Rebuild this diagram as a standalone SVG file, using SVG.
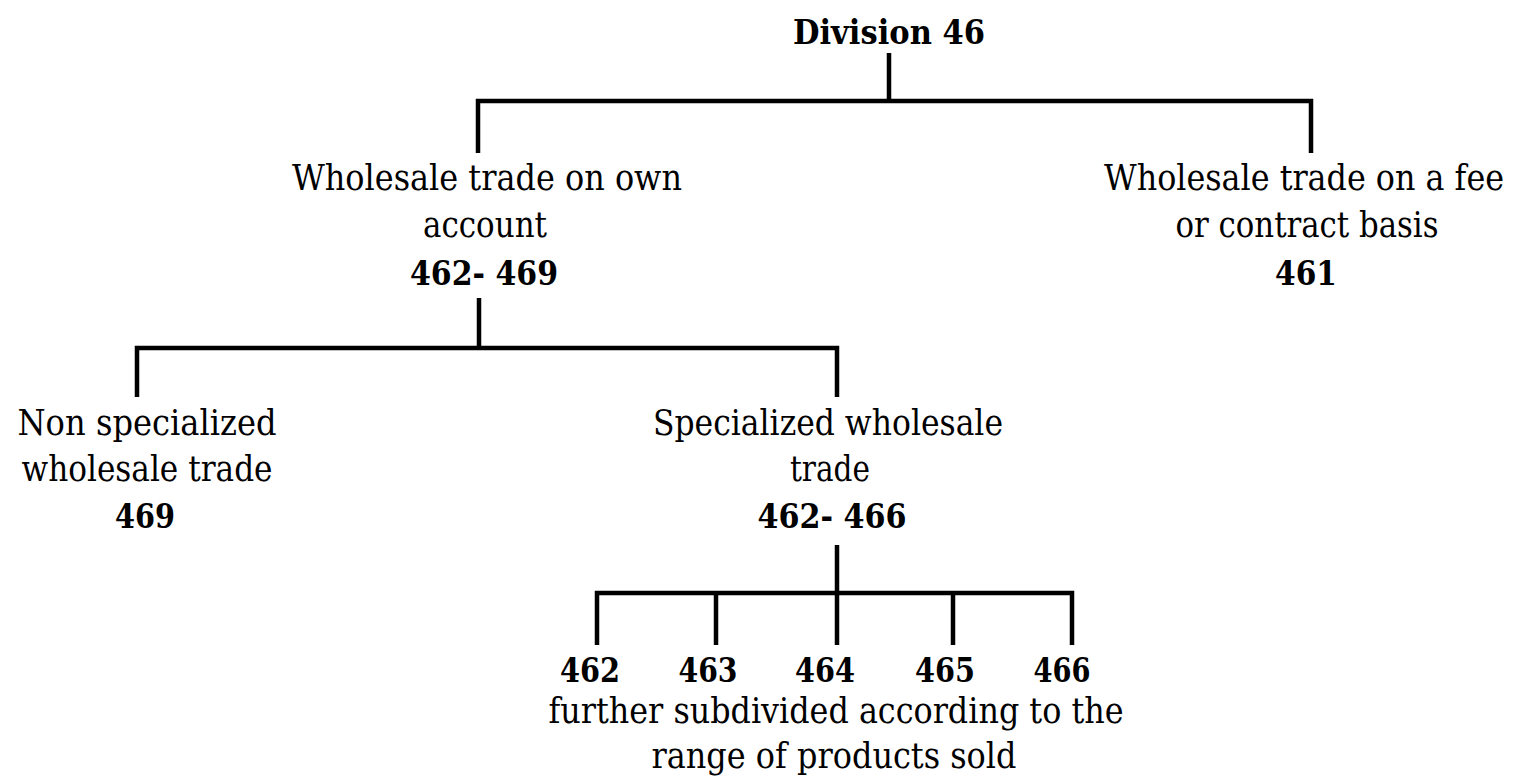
<svg xmlns="http://www.w3.org/2000/svg" width="1516" height="781" viewBox="0 0 1516 781">
  <style>
    .bg { fill: #ffffff; }
    .lbl { font-family: "DejaVu Serif", "Liberation Serif", serif; font-size: 35px; fill: #000; text-anchor: middle; }
    .code { font-family: "DejaVu Serif", "Liberation Serif", serif; font-size: 34px; font-weight: bold; fill: #000; text-anchor: middle; }
    .wire { fill: none; stroke: #000; stroke-width: 4.5; stroke-linejoin: miter; stroke-linecap: butt; }
  </style>
  <rect class="bg" x="0" y="0" width="1516" height="781"/>

  <!-- tree connectors -->
  <g id="connectors">
    <path class="wire" d="M889 53 V101"/>
    <path class="wire" d="M478 153 V101 H1311 V153"/>
    <path class="wire" d="M479 298 V348"/>
    <path class="wire" d="M137 397 V348 H837 V397"/>
    <path class="wire" d="M837 545 V593"/>
    <path class="wire" d="M597 645 V593 H1072 V645"/>
    <path class="wire" d="M716 593 V645"/>
    <path class="wire" d="M837 593 V645"/>
    <path class="wire" d="M953 593 V645"/>
  </g>

  <g id="division-46">
    <text class="code" x="889" y="44" textLength="192" lengthAdjust="spacingAndGlyphs">Division 46</text>
  </g>

  <g id="own-account">
    <text class="lbl" x="487" y="190" textLength="390" lengthAdjust="spacingAndGlyphs">Wholesale trade on own</text>
    <text class="lbl" x="485" y="237" textLength="124" lengthAdjust="spacingAndGlyphs">account</text>
    <text class="code" x="484" y="285" textLength="148" lengthAdjust="spacingAndGlyphs">462- 469</text>
  </g>

  <g id="fee-contract">
    <!-- long first line is drawn horizontally condensed so it stays inside the right edge -->
    <text class="lbl" transform="translate(1304 190) scale(0.85 1)" x="0" y="0" textLength="470.6" lengthAdjust="spacingAndGlyphs">Wholesale trade on a fee</text>
    <text class="lbl" x="1307" y="237" textLength="263" lengthAdjust="spacingAndGlyphs">or contract basis</text>
    <text class="code" x="1306" y="285" textLength="62" lengthAdjust="spacingAndGlyphs">461</text>
  </g>

  <g id="non-specialized">
    <text class="lbl" x="147" y="435" textLength="259" lengthAdjust="spacingAndGlyphs">Non specialized</text>
    <text class="lbl" x="147" y="481" textLength="251" lengthAdjust="spacingAndGlyphs">wholesale trade</text>
    <text class="code" x="145" y="528" textLength="60" lengthAdjust="spacingAndGlyphs">469</text>
  </g>

  <g id="specialized">
    <text class="lbl" x="828" y="435" textLength="350" lengthAdjust="spacingAndGlyphs">Specialized wholesale</text>
    <text class="lbl" x="830" y="481" textLength="80" lengthAdjust="spacingAndGlyphs">trade</text>
    <text class="code" x="832" y="528" textLength="149" lengthAdjust="spacingAndGlyphs">462- 466</text>
  </g>

  <g id="group-462"><text class="code" x="590" y="682" textLength="60" lengthAdjust="spacingAndGlyphs">462</text></g>
  <g id="group-463"><text class="code" x="708" y="682" textLength="59" lengthAdjust="spacingAndGlyphs">463</text></g>
  <g id="group-464"><text class="code" x="825" y="682" textLength="60" lengthAdjust="spacingAndGlyphs">464</text></g>
  <g id="group-465"><text class="code" x="945" y="682" textLength="60" lengthAdjust="spacingAndGlyphs">465</text></g>
  <g id="group-466"><text class="code" x="1062" y="682" textLength="57" lengthAdjust="spacingAndGlyphs">466</text></g>

  <g id="subdivision-note">
    <text class="lbl" x="836" y="723" textLength="575" lengthAdjust="spacingAndGlyphs">further subdivided according to the</text>
    <text class="lbl" x="834" y="768" textLength="365" lengthAdjust="spacingAndGlyphs">range of products sold</text>
  </g>
</svg>
